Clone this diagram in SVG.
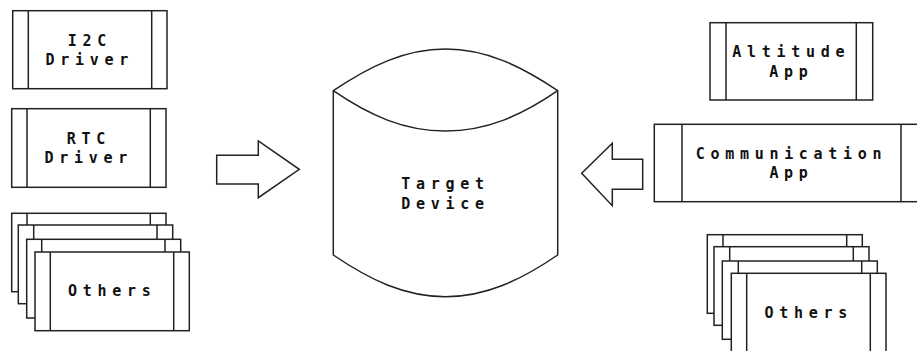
<svg xmlns="http://www.w3.org/2000/svg" width="917" height="351" viewBox="0 0 917 351">
  <style>
    .box { fill: #ffffff; stroke: #222222; stroke-width: 1.5; }
    .bar { fill: none; stroke: #222222; stroke-width: 1.5; }
    .shape { fill: #ffffff; stroke: #222222; stroke-width: 1.5; stroke-linejoin: miter; }
    .lbl { font-family: "DejaVu Sans Mono", "Liberation Mono", monospace; font-weight: bold; font-size: 15px; letter-spacing: 5.7px; fill: #111111; text-anchor: middle; }
  </style>
  <rect width="917" height="351" fill="#ffffff"/>

  <!-- left column: drivers -->
  <g id="i2c-driver">
    <rect class="box" x="12.7" y="10.7" width="154.3" height="78"/>
    <path class="bar" d="M28.3 10.7V88.7M151.7 10.7V88.7"/>
    <text class="lbl" x="89.8" y="45.7">I2C<tspan x="89.8" dy="19">Driver</tspan></text>
  </g>

  <g id="rtc-driver">
    <rect class="box" x="11.7" y="108.7" width="154.3" height="78.6"/>
    <path class="bar" d="M27 108.7V187.3M150.3 108.7V187.3"/>
    <text class="lbl" x="88.8" y="144">RTC<tspan x="88.8" dy="19">Driver</tspan></text>
  </g>

  <g id="other-drivers">
    <rect class="box" x="11.7" y="213.3" width="154.3" height="78.4"/>
    <path class="bar" d="M27 213.3V291.7M150.3 213.3V291.7"/>
    <rect class="box" x="18.3" y="225" width="154.4" height="78.7"/>
    <path class="bar" d="M33.7 225V303.7M157 225V303.7"/>
    <rect class="box" x="26.7" y="239.3" width="154" height="78.7"/>
    <path class="bar" d="M41.7 239.3V318M165 239.3V318"/>
    <rect class="box" x="35" y="252" width="154.3" height="78.7"/>
    <path class="bar" d="M50.3 252V330.7M173.7 252V330.7"/>
    <text class="lbl" x="112.2" y="296">Others</text>
  </g>

  <!-- centre: target device -->
  <g id="target-device">
    <path class="shape" d="M333.3 90.7C370 66 405 49 445.5 49C486 49 521 66 557.7 90.7V255C521 280 486 296.7 445.5 296.7C405 296.7 370 280 333.3 255Z"/>
    <path class="bar" d="M333.3 90.7C370 116 405 131 445.5 131C486 131 521 116 557.7 90.7"/>
    <text class="lbl" x="445.5" y="189.3">Target<tspan x="445.5" dy="19.4">Device</tspan></text>
  </g>

  <!-- right column: applications -->
  <g id="altitude-app">
    <rect class="box" x="710" y="22.7" width="162.7" height="77.3"/>
    <path class="bar" d="M726 22.7V100M856.3 22.7V100"/>
    <text class="lbl" x="791.3" y="57.4">Altitude<tspan x="791.3" dy="19.5">App</tspan></text>
  </g>

  <g id="communication-app">
    <rect class="box" x="654.3" y="124.3" width="274" height="77.4"/>
    <path class="bar" d="M682 124.3V201.7M901 124.3V201.7"/>
    <text class="lbl" x="791.5" y="159">Communication<tspan x="791.5" dy="19">App</tspan></text>
  </g>

  <g id="other-apps">
    <rect class="box" x="707.3" y="234.7" width="155" height="78.6"/>
    <path class="bar" d="M723 234.7V313.3M846.7 234.7V313.3"/>
    <rect class="box" x="714" y="246.7" width="155" height="78.6"/>
    <path class="bar" d="M729.7 246.7V325.3M853.3 246.7V325.3"/>
    <rect class="box" x="722.3" y="261" width="155" height="78.3"/>
    <path class="bar" d="M738.3 261V339.3M861.7 261V339.3"/>
    <rect class="box" x="731.3" y="273.3" width="154.7" height="78.7"/>
    <path class="bar" d="M746.7 273.3V352M870.3 273.3V352"/>
    <text class="lbl" x="808.7" y="317.7">Others</text>
  </g>

  <!-- connectors: block arrows into the target device -->
  <g id="connectors">
    <polygon class="shape" points="216.7,155.3 258.3,155.3 258.3,141 299.3,169.3 258.3,197.7 258.3,184 216.7,184"/>
    <polygon class="shape" points="642.7,159.3 612.3,159.3 612.3,143.3 581.7,173.3 612.3,205.7 612.3,189.3 642.7,189.3"/>
  </g>
</svg>
